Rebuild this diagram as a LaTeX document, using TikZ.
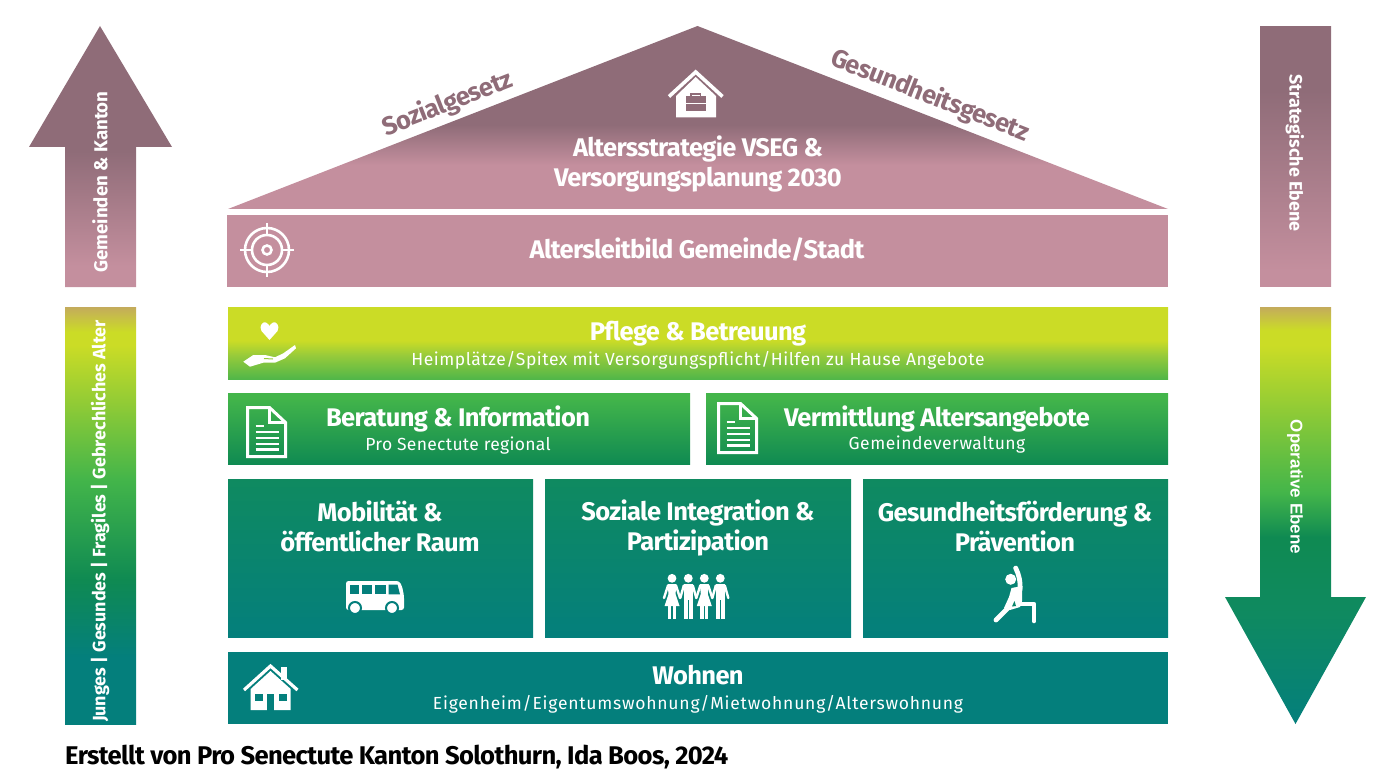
\documentclass[tikz,border=0pt]{standalone}
\usepackage{fontspec}
\setmainfont{Fira Sans}
\newfontfamily\arialf{Liberation Sans}
\newfontfamily\tf[LetterSpace=-2.5]{Fira Sans}
\newfontfamily\subf[LetterSpace=3]{Fira Sans}
\newfontfamily\subfa[LetterSpace=1.7]{Fira Sans}
\newfontfamily\subfb[LetterSpace=4.5]{Fira Sans}
\definecolor{roofdark}{HTML}{8F6C78}
\definecolor{pinkc}{HTML}{C48F9E}
\definecolor{tanc}{HTML}{C4AB5C}
\definecolor{limec}{HTML}{CBDC26}
\definecolor{lmid}{HTML}{98CB3A}
\definecolor{lgreen}{HTML}{4FB649}
\definecolor{mgreen}{HTML}{43B54A}
\definecolor{dgreen}{HTML}{0F8A52}
\definecolor{sgreen}{HTML}{0F8A60}
\definecolor{teal}{HTML}{047F7C}
\pgfdeclareverticalshading{roofshade}{100bp}{color(0bp)=(pinkc);color(37bp)=(pinkc);color(48bp)=(roofdark);color(100bp)=(roofdark)}
\pgfdeclareverticalshading{upshade}{100bp}{color(0bp)=(pinkc);color(29bp)=(pinkc);color(51bp)=(roofdark);color(100bp)=(roofdark)}
\pgfdeclareverticalshading{stratshade}{100bp}{color(0bp)=(pinkc);color(28bp)=(pinkc);color(62.7bp)=(roofdark);color(100bp)=(roofdark)}
\pgfdeclareverticalshading{leftshade}{100bp}{color(0bp)=(teal);color(33bp)=(teal);color(42.3bp)=(dgreen);color(54.3bp)=(mgreen);color(70.4bp)=(limec);color(72bp)=(limec);color(75bp)=(tanc);color(100bp)=(tanc)}
\pgfdeclareverticalshading{rightshade}{100bp}{color(0bp)=(teal);color(25bp)=(teal);color(38.3bp)=(sgreen);color(47.4bp)=(dgreen);color(52.7bp)=(mgreen);color(70.4bp)=(limec);color(72.2bp)=(limec);color(75bp)=(tanc);color(100bp)=(tanc)}
\pgfdeclareverticalshading{pflegeshade}{100bp}{color(0bp)=(lgreen);color(25bp)=(lgreen);color(42bp)=(lmid);color(52bp)=(limec);color(100bp)=(limec)}
\pgfdeclareverticalshading{beratshade}{100bp}{color(0bp)=(dgreen);color(25bp)=(dgreen);color(72bp)=(mgreen);color(100bp)=(mgreen)}
\pgfdeclareverticalshading{lowshade}{100bp}{color(0bp)=(teal);color(25bp)=(teal);color(75bp)=(sgreen);color(100bp)=(sgreen)}
\tikzset{
  boxn/.style={rectangle,inner sep=0pt,outer sep=0pt},
  ttl/.style={text=white,inner sep=0pt,align=center,font=\fontsize{25.5}{30}\selectfont\tf\bfseries},
  subt/.style={text=white,inner sep=0pt,align=center,font=\fontsize{17.5}{21}\selectfont\subf},
  vert/.style={text=white,inner sep=0pt,font=\fontsize{18.7}{22}\selectfont\bfseries},
  vertb/.style={text=white,inner sep=0pt,font=\fontsize{17}{22}\selectfont\arialf\bfseries},
  law/.style={text=roofdark,inner sep=0pt,font=\fontsize{25.5}{30}\selectfont\tf\bfseries},
  iconl/.style={draw=white,line width=2.6pt,fill=none},
}
\newcommand{\docicon}[1]{%
  \begin{scope}[shift={#1}]
    \draw[white,line width=3pt,line join=miter] (0,0)--(22,0)--(38,15)--(38,49)--(0,49)--cycle;
    \draw[white,line width=2.5pt] (22,0)--(22,15)--(38,15);
    \foreach \yy in {24.5,30.5,36.5,42}{\draw[white,line width=2.4pt] (8,\yy)--(31,\yy);}
    \draw[white,line width=2.4pt] (8,18.5)--(16,18.5);
  \end{scope}}
\newcommand{\dressf}[1]{%
  \begin{scope}[shift={(#1,0)}]
   \fill[white] (0,578.3) circle (4.4);
   \fill[white] (-4.5,584)--(4.5,584)--(3.5,594)--(7.5,606)--(-7.5,606)--(-3.5,594)--cycle;
   \fill[white] (-4,606) rectangle (-0.6,619.3);
   \fill[white] (0.6,606) rectangle (4,619.3);
   \draw[white,line width=2.4pt,line cap=round] (-4,585.5)--(-8,598);
   \draw[white,line width=2.4pt,line cap=round] (4,585.5)--(8,598);
  \end{scope}}
\newcommand{\pantsf}[1]{%
  \begin{scope}[shift={(#1,0)}]
   \fill[white] (0,578.3) circle (4.4);
   \fill[white] (-4.5,584) rectangle (4.5,600);
   \fill[white] (-4.5,600) rectangle (-0.6,619.3);
   \fill[white] (0.6,600) rectangle (4.5,619.3);
   \draw[white,line width=2.4pt,line cap=round] (-4.5,585.5)--(-8,598);
   \draw[white,line width=2.4pt,line cap=round] (4.5,585.5)--(8,598);
  \end{scope}}
\begin{document}
\begin{tikzpicture}[x=1pt,y=-1pt]
\useasboundingbox (0,0) rectangle (1400,778);
% side arrows
\shade[shading=upshade] (100,26)--(172,147)--(136,147)--(136,287)--(65,287)--(65,147)--(29,147)--cycle;
\shade[shading=leftshade] (65,307) rectangle (136,724);
\shade[shading=stratshade] (1260,26.5) rectangle (1331,286.8);
\shade[shading=rightshade] (1295.5,724)--(1225,597)--(1260,597)--(1260,307)--(1331,307)--(1331,597)--(1366,597)--cycle;
% roof
\shade[shading=roofshade] (697.5,26)--(1168,209)--(228,209)--cycle;
% boxes
\node[boxn,fill=pinkc,minimum width=941pt,minimum height=72pt] (leit) at (697.5,251) {};
\node[boxn,shading=pflegeshade,minimum width=940pt,minimum height=72.6pt] (pflege) at (698,343.4) {};
\node[boxn,shading=beratshade,minimum width=462pt,minimum height=71.4pt] (berat) at (459,428.8) {};
\node[boxn,shading=beratshade,minimum width=462pt,minimum height=71.4pt] (verm) at (937,428.8) {};
\node[boxn,shading=lowshade,minimum width=305pt,minimum height=158.6pt] (mob) at (380.5,558.4) {};
\node[boxn,shading=lowshade,minimum width=306pt,minimum height=158.6pt] (soz) at (698,558.4) {};
\node[boxn,shading=lowshade,minimum width=305pt,minimum height=158.6pt] (ges) at (1015.5,558.4) {};
\node[boxn,fill=teal,minimum width=940pt,minimum height=72pt] (wohn) at (698,687.7) {};
% texts
\node[law,rotate=21.4] (tsoz) at (447.5,104) {Sozialgesetz};
\node[law,rotate=-21.4] (tges) at (930,96) {Gesundheitsgesetz};
\node[ttl] (t1) at (698,163.5) {Altersstrategie VSEG \&\\Versorgungsplanung 2030};
\node[ttl] (t2) at (697,250) {Altersleitbild Gemeinde/Stadt};
\node[ttl] (t3) at (698,333.5) {Pflege \& Betreuung};
\node[subt] (t3s) at (698,360) {Heimplätze/Spitex mit Versorgungspflicht/Hilfen zu Hause Angebote};
\node[ttl] (t4) at (458,418.5) {Beratung \& Information};
\node[subt,font=\fontsize{17.5}{21}\selectfont\subfa] (t4s) at (458,445.5) {Pro Senectute regional};
\node[ttl] (t5) at (937,418.5) {Vermittlung Altersangebote};
\node[subt] (t5s) at (937,445) {Gemeindeverwaltung};
\node[ttl] (t6) at (380,526) {Mobilität \&\\öffentlicher Raum};
\node[ttl] (t7) at (698,528) {Soziale Integration \&\\Partizipation};
\node[ttl] (t8) at (1015,526) {Gesundheitsförderung \&\\Prävention};
\node[ttl] (t9) at (698,675) {Wohnen};
\node[subt,font=\fontsize{17.5}{21}\selectfont\subfb] (t9s) at (698,704) {Eigenheim/Eigentumswohnung/Mietwohnung/Alterswohnung};
\node[vert,rotate=90] (v1) at (100,182) {Gemeinden \& Kanton};
\node[vert,rotate=90,font=\fontsize{17.9}{22}\selectfont\bfseries] (v2) at (100,521) {Junges | Gesundes | Fragiles | Gebrechliches Alter};
\node[vert,rotate=-90,font=\fontsize{17.9}{22}\selectfont\bfseries] (v3) at (1295,153) {Strategische Ebene};
\node[vertb,rotate=-90] (v4) at (1295,487) {Operative Ebene};
\node[anchor=west,inner sep=0pt,text=black,font=\fontsize{25.6}{30}\selectfont\tf\bfseries] (foot) at (65,757) {Erstellt von Pro Senectute Kanton Solothurn, Ida Boos, 2024};
% target icon
\draw[iconl] (267,250) circle (22);
\draw[iconl] (267,250) circle (15);
\draw[iconl] (267,250) circle (4.5);
\draw[iconl] (267,223)--(267,234);
\draw[iconl] (267,266)--(267,277);
\draw[iconl] (240,250)--(251,250);
\draw[iconl] (283,250)--(294,250);
% roof house icon
\fill[white] (695.7,77)--(716,96)--(716,117.5)--(676,117.5)--(676,96)--cycle;
\draw[white,line width=3.6pt,line join=miter] (669,96.5)--(695.7,72)--(722.5,96.5);
\fill[roofdark] (686,96.5) rectangle (705.7,111.5);
\draw[roofdark,line width=1.8pt] (691,96.5)--(691,94)--(700.5,94)--(700.5,96.5);
\fill[white] (686,103) rectangle (705.7,104.2);
% heart and hand
\fill[white] (269.5,340)--(261.5,331)..controls (258.5,326) and (263,321) .. (266,322.5)..controls (268,323.5) and (269,325) .. (269.5,326)..controls (270,325) and (271,323.5) .. (273,322.5)..controls (276,321) and (280.5,326) .. (277.5,331)--cycle;
\fill[white] (243.3,361.7)--(253.3,355)--(265,355)--(275,357.3)--(283.3,353.3)--(295,345)--(296,348.3)--(285,358.3)--(275,362.7)--(263.3,362.7)--(250,366.7)--cycle;
\draw[lmid,line width=1pt] (264,358.5)--(273,359);
% documents
\docicon{(247.5,407.5)}
\docicon{(718.5,403.5)}
% bus
\fill[white,rounded corners=2.5pt] (346,581)--(399,581)--(402,586)--(404,596)--(404,610)--(346,610)--cycle;
\fill[teal] (349.5,584.5) rectangle (358.7,594.3);
\fill[teal] (362,584.5) rectangle (372,594.3);
\fill[teal] (375,584.5) rectangle (385.7,594.3);
\fill[teal] (388.5,584.5)--(397.5,584.5)--(400,594.3)--(388.5,594.3)--cycle;
\fill[white,draw=teal,line width=2pt] (355,608) circle (6);
\fill[white,draw=teal,line width=2pt] (392,608) circle (6);
% people
\dressf{672}
\pantsf{688.3}
\dressf{704.3}
\pantsf{720.3}
% yoga
\fill[white] (1010.7,579.3) circle (5.5);
\draw[white,line width=4.8pt,line cap=round,line join=round] (1015.7,568)..controls (1019,575) and (1020.5,581) .. (1020,590);
\fill[white] (1011.5,588)--(1022.3,586)--(1022,601)--(1020,607)--(1010,610)--(1004,608)--(1009,597)--cycle;
\draw[white,line width=4.8pt,line cap=round,line join=round] (1011,605)--(996,620);
\draw[white,line width=4.6pt,line cap=round,line join=round] (1019,604)--(1034,604)--(1034,621);
\fill[sgreen!60!teal] (1014.5,601)--(1016,606)--(1012,606.5)--cycle;
% house icon
\fill[white] (270.5,671)--(290.7,689)--(290.7,710)--(250.7,710)--(250.7,689)--cycle;
\fill[white] (281,666.5) rectangle (286.7,680);
\draw[white,line width=3.2pt,line join=miter] (244,690)--(270.5,666)--(297.5,690);
\fill[teal] (266.7,694) rectangle (274.3,710.5);
\fill[teal] (255,694) rectangle (262.7,701);
\fill[teal] (279,694) rectangle (286.7,701);
\end{tikzpicture}
\end{document}
